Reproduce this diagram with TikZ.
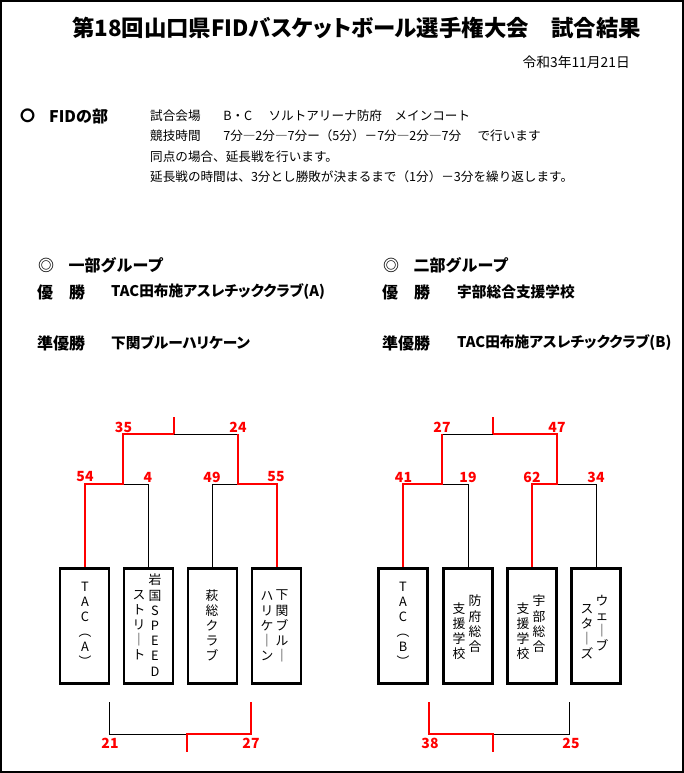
\documentclass[tikz,border=0pt]{standalone}
\usepackage{fontspec}
\setmainfont{Noto Sans CJK JP}
\newfontfamily\jpp{Noto Sans CJK JP}[RawFeature=+palt]
\definecolor{wred}{RGB}{255,0,0}
\newcommand\vcolumn[5]{\foreach \ch [count=\k] in {#5} {\node[vch] (#1-\k) at (#2,{#3+(\k-1)*#4}) {\ch};}}
\begin{document}
\begin{tikzpicture}[x=1pt,y=-1pt,
  win/.style={draw=wred,line width=2pt},
  lose/.style={draw=black,line width=0.9pt},
  team/.style={draw,line width=2.6pt,minimum width=49pt,minimum height=115pt,inner sep=0pt},
  vch/.style={font=\fontsize{12.8}{12.8}\selectfont,inner sep=0pt,text height=0.88em,text depth=0.12em},
  score/.style={text=wred,font=\bfseries\fontsize{14}{14}\selectfont,inner sep=0pt},
  txt/.style={anchor=west,inner sep=0pt,font=\fontsize{12.6}{12.6}\selectfont},
  head/.style={anchor=west,inner sep=0pt,font=\bfseries\fontsize{16}{16}\selectfont},
  res/.style={anchor=west,inner sep=0pt,font=\jpp\bfseries\fontsize{14.7}{14.7}\selectfont}]
\useasboundingbox (0,0) rectangle (684,773);
\draw[line width=2pt] (1,1) rectangle (683,772);
% title
\node[inner sep=0pt,font=\jpp\bfseries\fontsize{22.4}{22.4}\selectfont] (title) at (356.5,28) {第18回山口県FIDバスケットボール選手権大会　試合結果};
\node[anchor=east,inner sep=0pt,font=\fontsize{13.8}{13.8}\selectfont] (date) at (630,62) {令和3年11月21日};
% FID section
\node[inner sep=0pt,font=\bfseries\fontsize{15}{15}\selectfont] (circ) at (27.5,116) {〇};
\node[head] (fid) at (49,116) {FIDの部};
\node[txt] (l1) at (150,116) {試合会場\hspace{1.8em}B・C\hspace{1.3em}ソルトアリーナ防府　メインコート};
\node[txt] (l2) at (150,136) {競技時間\hspace{1.8em}7分―2分―7分ー（5分）－7分―2分―7分\hspace{1.3em}で行います};
\node[txt] (l3) at (150,157) {同点の場合、延長戦を行います。};
\node[txt] (l4) at (150,177) {延長戦の時間は、3分とし勝敗が決まるまで（1分）－3分を繰り返します。};
% groups
\node[head] (g1) at (38,265) {◎\hspace{0.9em}一部グループ};
\node[head] (g2) at (383,265) {◎\hspace{0.9em}二部グループ};
\node[head] (w1) at (37,292) {優　勝};
\node[res] (w1n) at (111,292) {TAC田布施アスレチッククラブ(A)};
\node[head] (r1) at (37,343) {準優勝};
\node[res] (r1n) at (111,343) {下関ブルーハリケーン};
\node[head] (w2) at (382,292) {優　勝};
\node[res] (w2n) at (457,292) {宇部総合支援学校};
\node[head] (r2) at (382,343) {準優勝};
\node[res] (r2n) at (457,343) {TAC田布施アスレチッククラブ(B)};
% team boxes left
\node[team] (bL1) at (84.5,626) {};
\node[team] (bL2) at (148.5,626) {};
\node[team] (bL3) at (212.5,626) {};
\node[team] (bL4) at (276.5,626) {};
% team boxes right
\node[team] (bR1) at (403,626) {};
\node[team] (bR2) at (468,626) {};
\node[team] (bR3) at (532,626) {};
\node[team] (bR4) at (596,626) {};
% box texts
\vcolumn{tL1}{85}{588}{15}{T,A,C,︵,A,︶}
\vcolumn{tL2a}{155}{581}{15.2}{岩,国,S,P,E,E,D}
\vcolumn{tL2b}{139}{596}{15}{ス,ト,リ,｜,ト}
\vcolumn{tL3}{212}{597}{15}{萩,総,ク,ラ,ブ}
\vcolumn{tL4a}{282}{596}{15.2}{下,関,ブ,ル,｜}
\vcolumn{tL4b}{267}{597}{15}{ハ,リ,ケ,｜,ン}
\vcolumn{tR1}{403}{588}{15}{T,A,C,︵,B,︶}
\vcolumn{tR2a}{475}{602}{15.3}{防,府,総,合}
\vcolumn{tR2b}{459}{610}{15}{支,援,学,校}
\vcolumn{tR3a}{539}{602}{15.3}{宇,部,総,合}
\vcolumn{tR3b}{523}{610}{15}{支,援,学,校}
\vcolumn{tR4a}{602}{602}{15}{ウ,ェ,｜,ブ}
\vcolumn{tR4b}{587}{610}{15}{ス,タ,｜,ズ}
% junction coordinates
\coordinate (jL1) at (123,484);
\coordinate (jL2) at (238,484);
\coordinate (tL) at (174,434);
\coordinate (tLt) at (174,417);
\coordinate (cL1) at (109,702);
\coordinate (cL2) at (251,702);
\coordinate (mL) at (187,734);
\coordinate (mLt) at (187,752);
\coordinate (jR1) at (442,484);
\coordinate (jR2) at (557,484);
\coordinate (tR) at (493,434);
\coordinate (tRt) at (493,417);
\coordinate (cR1) at (429,702);
\coordinate (cR2) at (569,702);
\coordinate (mR) at (493,734);
\coordinate (mRt) at (493,752);
% left bracket
\draw[lose] (bL2.north) |- (jL1);
\draw[lose] (bL3.north) |- (jL2);
\draw[lose] (jL2 |- tL) -- (tL);
\draw[win] (bL1.north) |- (jL1) -- (jL1 |- tL) -- (tL);
\draw[win] (bL4.north) |- (jL2) -- (jL2 |- tL);
\draw[win] (tL) -- (tLt);
\draw[lose] (cL1) |- (mL);
\draw[win] (cL2) |- (mL) -- (mLt);
% right bracket
\draw[lose] (bR2.north) |- (jR1);
\draw[lose] (bR4.north) |- (jR2);
\draw[lose] (jR1 |- tR) -- (tR);
\draw[win] (bR1.north) |- (jR1) -- (jR1 |- tR);
\draw[win] (bR3.north) |- (jR2) -- (jR2 |- tR) -- (tR);
\draw[win] (tR) -- (tRt);
\draw[lose] (cR2) |- (mR);
\draw[win] (cR1) |- (mR) -- (mRt);
% scores
\node[score] (sL1) at (85,477) {54};
\node[score] (sL2) at (148,477) {4};
\node[score] (sL3) at (212,477) {49};
\node[score] (sL4) at (276,477) {55};
\node[score] (sL5) at (123.5,427) {35};
\node[score] (sL6) at (238,427) {24};
\node[score] (sL7) at (110,743) {21};
\node[score] (sL8) at (251,743) {27};
\node[score] (sR1) at (403.5,477) {41};
\node[score] (sR2) at (468,477) {19};
\node[score] (sR3) at (532,477) {62};
\node[score] (sR4) at (596,477) {34};
\node[score] (sR5) at (442,427) {27};
\node[score] (sR6) at (557,427) {47};
\node[score] (sR7) at (430,743) {38};
\node[score] (sR8) at (571,743) {25};
\end{tikzpicture}
\end{document}
